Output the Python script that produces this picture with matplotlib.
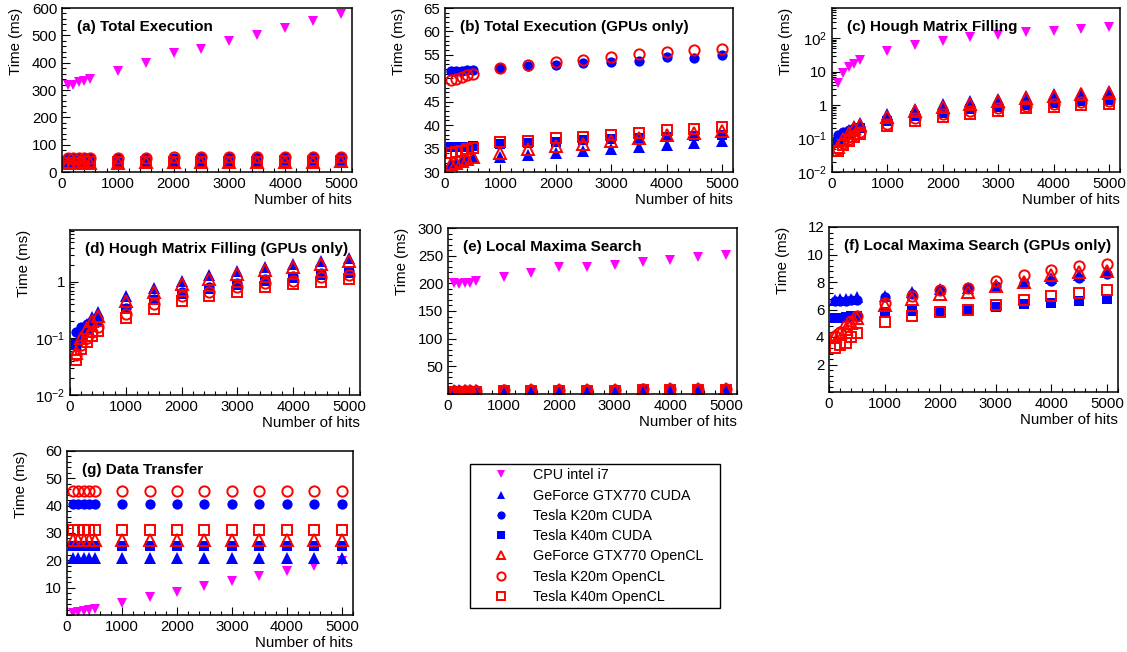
import numpy as np
import matplotlib
matplotlib.use("Agg")
import matplotlib.pyplot as plt
from matplotlib.ticker import MultipleLocator, FixedLocator, LogLocator, NullFormatter, FuncFormatter

# ---------------- data ----------------
hits = [100, 200, 300, 400, 500, 1000, 1500, 2000, 2500, 3000, 3500, 4000, 4500, 5000]

series_labels = ["CPU intel i7", "GeForce GTX770 CUDA", "Tesla K20m CUDA", "Tesla K40m CUDA",
                 "GeForce GTX770 OpenCL", "Tesla K20m OpenCL", "Tesla K40m OpenCL"]

# Total execution (ms)
total_cpu      = [320, 320, 328, 333, 340, 370, 397, 437, 450, 478, 500, 525, 553, 578]
total_gtx_cuda = [32.0, 32.2, 32.4, 32.7, 33.0, 33.2, 33.7, 34.0, 34.5, 35.0, 35.4, 35.8, 36.2, 36.7]
total_k20_cuda = [51.5, 51.5, 51.6, 51.7, 51.8, 52.1, 52.7, 52.9, 53.2, 53.4, 53.7, 54.5, 54.4, 54.9]
total_k40_cuda = [35.3, 35.3, 35.3, 35.4, 35.5, 36.0, 36.2, 36.5, 36.8, 37.0, 37.3, 37.5, 37.7, 37.9]
total_gtx_ocl  = [31.7, 32.0, 32.3, 32.8, 33.2, 34.0, 35.0, 35.6, 36.0, 36.7, 37.2, 37.8, 38.3, 38.7]
total_k20_ocl  = [49.6, 49.9, 50.2, 50.6, 51.0, 52.3, 52.9, 53.5, 53.8, 54.5, 55.1, 55.6, 56.0, 56.3]
total_k40_ocl  = [34.0, 34.2, 34.5, 34.9, 35.2, 36.3, 36.7, 37.2, 37.4, 38.0, 38.4, 38.9, 39.2, 39.5]

# Hough matrix filling (ms)
hough_cpu      = [4.5, 9, 14, 17, 22, 42, 62, 85, 105, 125, 150, 165, 190, 210]
hough_gtx_cuda = [0.08, 0.12, 0.18, 0.24, 0.29, 0.55, 0.78, 1.05, 1.3, 1.55, 1.85, 2.1, 2.35, 2.6]
hough_k20_cuda = [0.13, 0.16, 0.18, 0.20, 0.22, 0.35, 0.50, 0.65, 0.80, 0.95, 1.10, 1.25, 1.40, 1.55]
hough_k40_cuda = [0.08, 0.11, 0.14, 0.17, 0.20, 0.33, 0.47, 0.60, 0.75, 0.88, 1.02, 1.15, 1.30, 1.45]
hough_gtx_ocl  = [0.055, 0.10, 0.15, 0.20, 0.25, 0.45, 0.65, 0.90, 1.10, 1.35, 1.60, 1.85, 2.10, 2.30]
hough_k20_ocl  = [0.050, 0.075, 0.10, 0.13, 0.16, 0.27, 0.40, 0.55, 0.65, 0.80, 0.95, 1.05, 1.20, 1.30]
hough_k40_ocl  = [0.042, 0.065, 0.085, 0.11, 0.135, 0.23, 0.33, 0.45, 0.55, 0.67, 0.80, 0.90, 1.00, 1.10]

# Local maxima search (ms)
lms_cpu      = [200, 198, 200, 201, 204, 211, 219, 229, 229, 234, 238, 243, 247, 252]
lms_gtx_cuda = [6.7, 6.8, 6.8, 6.8, 6.9, 7.0, 7.3, 7.5, 7.6, 7.8, 8.0, 8.3, 8.5, 8.7]
lms_k20_cuda = [6.6, 6.6, 6.6, 6.7, 6.7, 6.9, 7.1, 7.4, 7.6, 7.7, 7.9, 8.1, 8.3, 8.6]
lms_k40_cuda = [5.4, 5.4, 5.45, 5.5, 5.5, 5.8, 5.9, 5.9, 6.0, 6.2, 6.4, 6.5, 6.6, 6.8]
lms_gtx_ocl  = [4.1, 4.3, 4.6, 5.0, 5.4, 6.3, 6.8, 7.1, 7.3, 7.7, 8.0, 8.5, 8.7, 8.8]
lms_k20_ocl  = [4.1, 4.4, 4.8, 5.2, 5.5, 6.5, 7.0, 7.4, 7.6, 8.1, 8.5, 8.9, 9.2, 9.3]
lms_k40_ocl  = [3.2, 3.4, 3.6, 4.0, 4.3, 5.1, 5.5, 5.8, 6.0, 6.3, 6.7, 7.0, 7.2, 7.4]

# Data transfer (ms)
xfer_cpu      = [0.8, 1.0, 1.5, 2.0, 2.3, 4.5, 6.5, 8.5, 10.5, 12.3, 14.3, 16.2, 18.0, 19.8]
xfer_gtx_cuda = [21.0, 21.0, 21.0, 21.0, 21.0, 21.0, 21.0, 21.0, 21.0, 21.0, 21.0, 21.0, 21.0, 21.0]
xfer_k20_cuda = [40.5, 40.5, 40.5, 40.5, 40.5, 40.5, 40.5, 40.5, 40.5, 40.5, 40.5, 40.5, 40.5, 40.5]
xfer_k40_cuda = [25.4, 25.4, 25.4, 25.4, 25.4, 25.4, 25.4, 25.4, 25.4, 25.4, 25.4, 25.4, 25.4, 25.4]
xfer_gtx_ocl  = [27.6, 27.6, 27.6, 27.6, 27.6, 27.6, 27.6, 27.6, 27.6, 27.6, 27.6, 27.6, 27.6, 27.6]
xfer_k20_ocl  = [45.5, 45.5, 45.5, 45.5, 45.5, 45.5, 45.5, 45.5, 45.5, 45.5, 45.5, 45.5, 45.5, 45.5]
xfer_k40_ocl  = [31.0, 31.0, 31.0, 31.0, 31.0, 31.0, 31.0, 31.0, 31.0, 31.0, 31.0, 31.0, 31.0, 31.0]

# ---------------- style ----------------
plt.rcParams["font.family"] = ["Liberation Sans", "DejaVu Sans"]
plt.rcParams["mathtext.fontset"] = "custom"
plt.rcParams["mathtext.rm"] = "Liberation Sans"
plt.rcParams["mathtext.it"] = "Liberation Sans:italic"
plt.rcParams["mathtext.bf"] = "Liberation Sans:bold"

MAG, BLUE, RED = "#ff00ff", "#0000ff", "#ff0000"
styles = [("v", MAG, True, 7.2), ("^", BLUE, True, 8.0), ("o", BLUE, True, 7.4), ("s", BLUE, True, 6.8),
          ("^", RED, False, 8.0), ("o", RED, False, 7.4), ("s", RED, False, 6.8)]

W, H = 1127, 652
fig = plt.figure(figsize=(W / 100, H / 100), dpi=100)
FS = 10.8
TFS = 11.0


def rect(l, t, r, b):
    return [l / W, 1 - b / H, (r - l) / W, (b - t) / H]


def log_fmt(v, pos):
    e = int(round(np.log10(v)))
    if e == 0:
        return "1"
    if e == 1:
        return "10"
    return r"$\mathregular{10^{%d}}$" % e


def make_panel(box, title, datasets, ylim, yticks=None, yminor=None, log=False):
    l, t, r, b = box
    ax = fig.add_axes(rect(l, t, r, b))
    handles = []
    for (lbl, y), (m, c, filled, ms) in datasets:
        if filled:
            h, = ax.plot(hits, y, linestyle="none", marker=m, ms=ms, color=c, mec=c, mew=0, label=lbl)
        else:
            h, = ax.plot(hits, y, linestyle="none", marker=m, ms=ms, mfc="none", mec=c, mew=1.4, label=lbl)
        handles.append(h)
    ax.set_xlim(0, 5200)
    ax.xaxis.set_major_locator(MultipleLocator(1000))
    ax.xaxis.set_minor_locator(MultipleLocator(200))
    if log:
        ax.set_yscale("log")
        ax.set_ylim(*ylim)
        ax.yaxis.set_major_locator(LogLocator(base=10, numticks=20))
        ax.yaxis.set_minor_locator(LogLocator(base=10, subs=np.arange(2, 10), numticks=20))
        ax.yaxis.set_major_formatter(FuncFormatter(log_fmt))
        ax.yaxis.set_minor_formatter(NullFormatter())
    else:
        ax.set_ylim(*ylim)
        ax.yaxis.set_major_locator(FixedLocator(yticks))
        ax.yaxis.set_minor_locator(MultipleLocator(yminor))
    ax.tick_params(which="both", direction="in", top=False, right=False, labelsize=FS, width=0.8)
    ax.tick_params(which="major", length=6, pad=3.5)
    ax.tick_params(which="minor", length=3)
    for s in ax.spines.values():
        s.set_linewidth(1.1)
    hpx = b - t
    wpx = r - l
    ax.set_xlabel("Number of hits", fontsize=FS, loc="right")
    ax.xaxis.set_label_coords(1.0, -21 / hpx)
    ax.set_ylabel("Time (ms)", fontsize=FS, loc="top")
    ax.yaxis.set_label_coords(-39 / wpx, 1.0)
    ax.text(15 / wpx, 1 - 19 / hpx, title, transform=ax.transAxes, fontsize=TFS, fontweight="bold",
            ha="left", va="center")
    return ax, handles


def pack(vals, idx):
    return [((series_labels[i], v), styles[i]) for i, v in zip(idx, vals)]


all_idx = [0, 1, 2, 3, 4, 5, 6]
gpu_idx = [1, 2, 3, 4, 5, 6]

ax_a, handles = make_panel((62, 8, 352, 172), "(a) Total Execution",
                           pack([total_cpu, total_gtx_cuda, total_k20_cuda, total_k40_cuda,
                                 total_gtx_ocl, total_k20_ocl, total_k40_ocl], all_idx),
                           (0, 600), yticks=[0, 100, 200, 300, 400, 500, 600], yminor=20)
make_panel((445, 8, 733, 172), "(b) Total Execution (GPUs only)",
           pack([total_gtx_cuda, total_k20_cuda, total_k40_cuda,
                 total_gtx_ocl, total_k20_ocl, total_k40_ocl], gpu_idx),
           (30, 65), yticks=[30, 35, 40, 45, 50, 55, 60, 65], yminor=1)
make_panel((832, 8, 1120, 172), "(c) Hough Matrix Filling",
           pack([hough_cpu, hough_gtx_cuda, hough_k20_cuda, hough_k40_cuda,
                 hough_gtx_ocl, hough_k20_ocl, hough_k40_ocl], all_idx),
           (0.01, 800), log=True)
make_panel((70, 230, 360, 395), "(d) Hough Matrix Filling (GPUs only)",
           pack([hough_gtx_cuda, hough_k20_cuda, hough_k40_cuda,
                 hough_gtx_ocl, hough_k20_ocl, hough_k40_ocl], gpu_idx),
           (0.01, 8.2), log=True)
make_panel((448, 228, 737, 394), "(e) Local Maxima Search",
           pack([lms_cpu, lms_gtx_cuda, lms_k20_cuda, lms_k40_cuda,
                 lms_gtx_ocl, lms_k20_ocl, lms_k40_ocl], all_idx),
           (0, 300), yticks=[50, 100, 150, 200, 250, 300], yminor=10)
make_panel((829, 227, 1118, 392), "(f) Local Maxima Search (GPUs only)",
           pack([lms_gtx_cuda, lms_k20_cuda, lms_k40_cuda,
                 lms_gtx_ocl, lms_k20_ocl, lms_k40_ocl], gpu_idx),
           (0, 12), yticks=[2, 4, 6, 8, 10, 12], yminor=0.4)
make_panel((67, 451, 353, 615), "(g) Data Transfer",
           pack([xfer_cpu, xfer_gtx_cuda, xfer_k20_cuda, xfer_k40_cuda,
                 xfer_gtx_ocl, xfer_k20_ocl, xfer_k40_ocl], all_idx),
           (0, 60), yticks=[10, 20, 30, 40, 50, 60], yminor=2)

LFS = 10.3
leg = fig.legend(handles, series_labels, loc="upper left",
                 bbox_to_anchor=(470 / W, 1 - 464 / H - 0.01, 250 / W, 0.01), mode="expand",
                 bbox_transform=fig.transFigure, borderaxespad=0, frameon=True, fancybox=False,
                 edgecolor="black", framealpha=1, fontsize=LFS, numpoints=1, markerscale=0.8,
                 handlelength=3.7, handletextpad=0.37, labelspacing=0.44, borderpad=0.3)
leg.get_frame().set_linewidth(1.0)

fig.savefig("out.png", dpi=100)
